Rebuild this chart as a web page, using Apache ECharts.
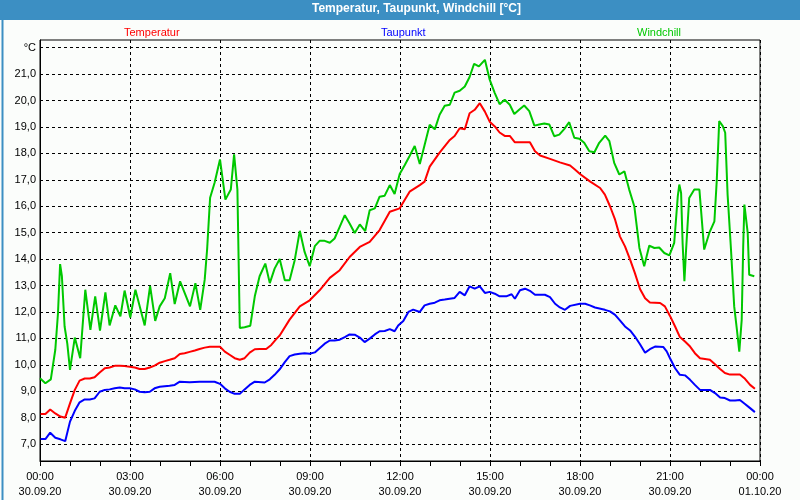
<!DOCTYPE html>
<html><head><meta charset="utf-8">
<script src="https://cdn.jsdelivr.net/npm/echarts@6/dist/echarts.min.js"></script>
<style>html,body{margin:0;padding:0;background:#fbfdfb}#c{width:800px;height:500px}</style>
</head><body><div id="c"></div>
<script>
// Hours since 30.09.20 00:00
const tempHours = [0.02,0.18,0.34,0.51,0.68,0.84,1.0,1.16,1.32,1.49,1.66,1.82,1.99,2.16,2.32,2.49,2.66,2.82,2.99,3.16,3.32,3.49,3.66,3.82,3.99,4.16,4.32,4.49,4.66,4.82,4.99,5.16,5.32,5.49,5.66,5.82,6.0,6.16,6.32,6.49,6.66,6.82,6.99,7.16,7.32,7.54,7.71,7.88,7.99,8.32,8.66,8.99,9.32,9.66,9.99,10.32,10.66,10.99,11.32,11.66,11.99,12.32,12.66,12.82,12.99,13.32,13.66,13.82,13.99,14.16,14.32,14.49,14.66,14.83,14.99,15.16,15.32,15.49,15.66,15.83,16.33,16.5,16.67,17.0,17.33,17.67,17.83,18.0,18.33,18.67,18.83,19.0,19.17,19.33,19.5,19.67,19.83,20.0,20.17,20.33,20.67,20.83,21.0,21.17,21.33,21.5,21.67,21.83,22.0,22.33,22.5,22.67,22.83,23.0,23.33,23.5,23.67,23.83];
const tempValues = [8.14,8.14,8.31,8.16,8.04,8.0,8.54,9.05,9.4,9.48,9.48,9.53,9.71,9.87,9.9,9.96,9.96,9.95,9.93,9.9,9.84,9.84,9.9,9.97,10.08,10.14,10.19,10.25,10.41,10.44,10.49,10.54,10.6,10.65,10.68,10.68,10.68,10.5,10.38,10.25,10.19,10.25,10.46,10.59,10.6,10.6,10.75,10.98,11.11,11.71,12.21,12.44,12.82,13.29,13.58,14.08,14.46,14.65,15.1,15.79,15.92,16.55,16.8,16.93,17.5,18.03,18.51,18.66,18.95,18.91,19.52,19.65,19.9,19.58,19.2,19.02,18.79,18.66,18.66,18.42,18.42,18.08,17.92,17.79,17.66,17.54,17.39,17.22,16.94,16.69,16.44,16.0,15.49,14.86,14.48,13.98,13.47,12.87,12.52,12.36,12.34,12.21,11.85,11.45,11.05,10.88,10.69,10.44,10.25,10.19,10.02,9.84,9.69,9.63,9.63,9.47,9.24,9.09];

const dewHours = [0.02,0.18,0.34,0.51,0.68,0.84,1.0,1.16,1.32,1.49,1.66,1.82,1.99,2.16,2.32,2.49,2.66,2.82,2.99,3.16,3.32,3.49,3.66,3.82,3.99,4.32,4.49,4.66,4.99,5.32,5.82,6.0,6.16,6.32,6.49,6.66,6.82,6.99,7.16,7.49,7.66,7.82,7.99,8.16,8.32,8.49,8.66,8.82,8.99,9.16,9.32,9.49,9.66,9.82,9.99,10.16,10.32,10.49,10.66,10.82,10.99,11.16,11.32,11.49,11.66,11.82,11.94,12.11,12.28,12.44,12.66,12.82,12.99,13.16,13.32,13.49,13.82,13.99,14.16,14.32,14.49,14.66,14.83,14.99,15.16,15.32,15.54,15.72,15.83,16.0,16.17,16.33,16.5,16.83,17.0,17.17,17.33,17.5,17.67,18.0,18.17,18.33,18.5,18.83,19.0,19.17,19.33,19.5,19.67,19.83,20.0,20.17,20.33,20.5,20.78,20.89,21.0,21.17,21.33,21.5,21.67,21.83,22.0,22.33,22.5,22.67,22.83,23.0,23.17,23.33,23.5,23.67,23.83];
const dewValues = [7.19,7.19,7.43,7.24,7.18,7.11,7.85,8.26,8.58,8.69,8.69,8.73,8.98,9.05,9.07,9.11,9.14,9.11,9.11,9.07,8.98,8.96,8.98,9.11,9.17,9.21,9.24,9.36,9.34,9.36,9.36,9.28,9.11,8.98,8.9,8.9,9.07,9.24,9.36,9.33,9.45,9.62,9.83,10.1,10.33,10.39,10.42,10.44,10.42,10.47,10.63,10.8,10.92,10.92,10.95,11.05,11.15,11.14,11.03,10.86,10.99,11.15,11.27,11.28,11.35,11.27,11.49,11.66,12.0,12.09,12.0,12.25,12.31,12.35,12.44,12.47,12.53,12.76,12.63,12.97,12.88,12.97,12.72,12.76,12.69,12.59,12.59,12.67,12.5,12.82,12.88,12.8,12.65,12.65,12.56,12.31,12.17,12.08,12.23,12.31,12.31,12.25,12.17,12.08,12.02,11.89,11.68,11.45,11.3,11.07,10.78,10.46,10.59,10.69,10.67,10.51,10.25,9.87,9.62,9.6,9.43,9.24,9.05,9.05,8.93,8.76,8.74,8.65,8.65,8.67,8.52,8.36,8.21];

const chillHours = [0.0,0.18,0.36,0.51,0.6,0.67,0.73,0.82,0.91,1.0,1.16,1.34,1.51,1.68,1.84,2.0,2.18,2.32,2.51,2.68,2.82,3.01,3.18,3.49,3.67,3.84,3.99,4.16,4.34,4.49,4.67,5.0,5.18,5.34,5.49,5.57,5.67,5.82,6.0,6.18,6.36,6.47,6.52,6.58,6.66,6.82,7.01,7.16,7.32,7.51,7.66,7.82,7.99,8.16,8.32,8.49,8.66,8.82,8.99,9.16,9.32,9.49,9.66,9.82,9.99,10.16,10.32,10.49,10.66,10.84,10.99,11.16,11.32,11.49,11.66,11.82,11.99,12.16,12.32,12.49,12.66,12.82,12.99,13.16,13.32,13.49,13.66,13.82,13.99,14.16,14.32,14.47,14.63,14.83,14.99,15.16,15.32,15.49,15.66,15.81,15.98,16.14,16.31,16.48,16.64,16.81,16.98,17.14,17.31,17.48,17.64,17.81,17.98,18.14,18.31,18.48,18.64,18.84,18.98,19.14,19.31,19.48,19.64,19.81,19.98,20.14,20.31,20.48,20.64,20.81,20.98,21.14,21.26,21.31,21.37,21.42,21.48,21.53,21.64,21.81,21.98,22.14,22.31,22.48,22.56,22.64,22.76,22.84,22.92,23.03,23.14,23.23,23.31,23.39,23.44,23.48,23.53,23.59,23.64,23.81];
const chillValues = [9.49,9.3,9.45,10.57,11.96,13.81,13.35,11.45,10.8,9.81,11.03,10.25,12.84,11.32,12.59,11.29,12.74,11.49,12.25,11.83,12.81,11.79,12.84,11.49,12.99,11.66,12.21,12.52,13.47,12.3,13.16,12.21,13.09,12.08,13.22,14.36,16.32,16.89,17.77,16.25,16.63,17.96,18.02,16.63,11.39,11.42,11.48,12.59,13.35,13.83,13.09,13.64,14.0,13.2,13.2,13.96,15.07,14.27,13.73,14.49,14.69,14.69,14.62,14.78,15.22,15.66,15.35,14.99,15.31,15.06,15.85,15.92,16.36,16.4,16.8,16.46,17.22,17.56,17.9,18.28,17.6,18.32,19.08,18.91,19.46,19.8,19.84,20.3,20.37,20.53,20.89,21.39,21.29,21.54,20.79,20.28,19.86,20.03,19.84,19.49,19.66,19.81,19.6,19.05,19.09,19.13,19.09,18.65,18.71,18.93,19.18,18.59,18.55,18.4,18.08,18.04,18.4,18.67,18.46,17.64,17.2,17.32,16.63,16.0,14.42,13.73,14.51,14.42,14.44,14.23,14.14,14.61,16.38,16.82,16.5,14.61,13.16,14.23,16.31,16.63,16.63,14.36,14.99,15.43,17.0,19.22,19.03,18.78,16.44,14.42,12.21,11.33,10.5,11.7,14.48,16.06,16.0,14.99,13.41,13.35];

const yTickValues = [7,8,9,10,11,12,13,14,15,16,17,18,19,20,21,22];
const xTickLabels = {0:'00:00\n30.09.20',3:'03:00\n30.09.20',6:'06:00\n30.09.20',9:'09:00\n30.09.20',12:'12:00\n30.09.20',15:'15:00\n30.09.20',18:'18:00\n30.09.20',21:'21:00\n30.09.20',24:'00:00\n01.10.20'};
const seriesNames = ['Temperatur','Taupunkt','Windchill'];
const seriesColors = ['#ff0000','#0000ff','#00c800'];

const zip = (a,b) => a.map((h,i)=>[h,b[i]]);
const FONT = 'Liberation Sans';
const chart = echarts.init(document.getElementById('c'), null, {renderer:'canvas'});
const legendPos = [119, 376, 632];
chart.setOption({
  animation:false,
  backgroundColor:'#fbfdfb',
  graphic:[
    {type:'rect', left:0, top:0, shape:{width:800,height:20}, style:{fill:'#3c8fc3'}, z:0},
    {type:'rect', left:0, top:0, shape:{x:0.5,y:0.5,width:799,height:499}, style:{fill:'none',stroke:'#3c8fc3',lineWidth:2}, z:0}
  ],
  title:{text:'Temperatur, Taupunkt, Windchill [°C]', left:312, top:3, padding:0,
    textStyle:{color:'#ffffff', fontFamily:FONT, fontWeight:'bold', fontSize:12}},
  legend: seriesNames.map((n,i)=>({data:[n], left:legendPos[i], top:26, padding:0, icon:'none', itemWidth:0, itemGap:0,
    selectedMode:false, textStyle:{color:seriesColors[i], fontFamily:FONT, fontSize:11, padding:0}})),
  grid:{left:40, right:40, top:40, bottom:39, show:true, borderColor:'#000', borderWidth:1, backgroundColor:'transparent'},
  xAxis:{type:'value', min:0, max:24, interval:3,
    axisLine:{lineStyle:{color:'#000', width:1}},
    axisTick:{show:true, length:5, lineStyle:{color:'#000'}},
    minorTick:{show:true, splitNumber:3, length:5, lineStyle:{color:'#000'}},
    splitLine:{show:true, lineStyle:{color:'#000', type:[3,3], width:1}},
    axisLabel:{formatter:v=>xTickLabels[v]||'', color:'#000', fontFamily:FONT, fontSize:11, lineHeight:15, margin:8}},
  yAxis:{type:'value', min:6.36, max:22.29,
    axisLine:{show:true, lineStyle:{color:'#000', width:1}},
    axisTick:{show:false, customValues:yTickValues},
    splitLine:{show:true, lineStyle:{color:'#000', type:[3,3], width:1}},
    axisLabel:{customValues:yTickValues, color:'#000', fontFamily:FONT, fontSize:11, margin:4,
      formatter:v=>{ if (Math.round(v)===22) return '°C'; return v.toFixed(1).replace('.',','); }}},
  series:[
    {name:seriesNames[0], type:'line', data:zip(tempHours,tempValues), showSymbol:false, lineStyle:{width:2,color:seriesColors[0]}, itemStyle:{color:seriesColors[0]}, z:3},
    {name:seriesNames[1], type:'line', data:zip(dewHours,dewValues), showSymbol:false, lineStyle:{width:2,color:seriesColors[1]}, itemStyle:{color:seriesColors[1]}, z:3},
    {name:seriesNames[2], type:'line', data:zip(chillHours,chillValues), showSymbol:false, lineStyle:{width:2,color:seriesColors[2]}, itemStyle:{color:seriesColors[2]}, z:3}
  ]
});
</script></body></html>
